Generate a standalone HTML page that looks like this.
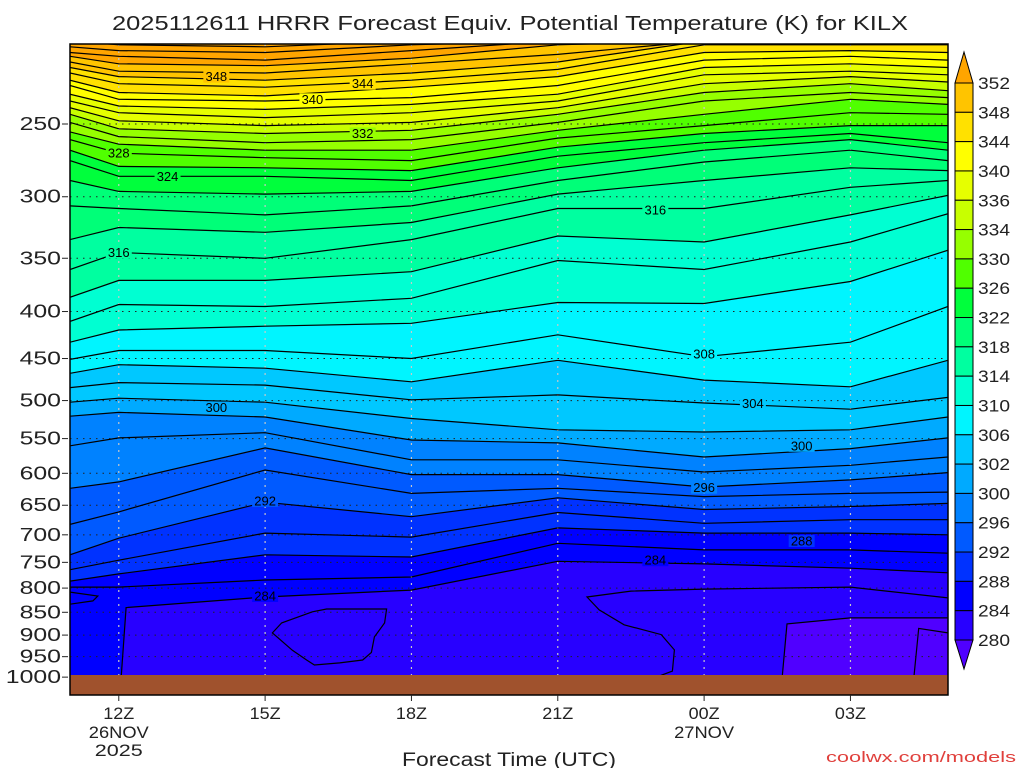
<!DOCTYPE html>
<html><head><meta charset="utf-8">
<style>
html,body{margin:0;padding:0;background:#fff;}
svg{display:block;font-family:"Liberation Sans",sans-serif;}
</style></head>
<body>
<svg id="chart" width="1024" height="768" viewBox="0 0 1024 768" xmlns="http://www.w3.org/2000/svg">
<defs><clipPath id="plotClip"><rect x="70" y="44" width="878" height="631"/></clipPath></defs>
<rect x="0" y="0" width="1024" height="768" fill="#fff"/>
<text x="112" y="30" font-size="20" textLength="796" lengthAdjust="spacingAndGlyphs" fill="#222">2025112611 HRRR Forecast Equiv. Potential Temperature (K) for KILX</text>
<g id="fills" clip-path="url(#plotClip)"></g>
<g id="grid"></g>
<g id="lines" clip-path="url(#plotClip)"></g>
<g id="labels"></g>
<rect x="70" y="675" width="878" height="20" fill="#a0522d"/>
<rect x="70" y="44" width="878" height="651" fill="none" stroke="#000" stroke-width="1.5"/>
<g id="yaxis"></g>
<g id="xaxis"></g>
<g id="cbar"></g>
<text x="402" y="766" font-size="19" textLength="214" lengthAdjust="spacingAndGlyphs" fill="#222">Forecast Time (UTC)</text>
<text x="826" y="762" font-size="15" textLength="190" lengthAdjust="spacingAndGlyphs" fill="#e0403c">coolwx.com/models</text>
</svg>
<script>
// forecast hours (UTC hours since 00Z 26 Nov)
const hours = [11, 12, 15, 18, 21, 24, 27, 29];
// per-level hour overrides for near-vertical contour edges
const h278 = [11, 28.3, 28.4, 29];
const h280 = [11, 25.6, 25.7, 27, 29];
const h284 = [11, 12.05, 12.15, 15, 18, 21, 24, 27, 29];
// pressure (hPa) where each theta-e contour level lies
const p278 = [1000,1000,885,895];
const p280 = [1000,1000,875,862,862];
const p284 = [1000,1000,840,818,804,748,753,761,770];
const p286 = [798,798,784,778,715,727,727,733];
const p288 = [786,772,736,740,688,697,697,700];
const p290 = [764,746,697,704,662,680,674,674];
const p292 = [736,706,645,669,638,657,652,647];
const p294 = [682,661,595,631,623,636,631,629];
const p296 = [623,613,563,602,602,621,610,599];
const p298 = [560,549,542,580,580,598,588,576];
const p300 = [520,515,521,552,556,576,564,549];
const p302 = [502,497,502,523,538,541,538,521];
const p304 = [484,478,481,499,493,503,511,496];
const p306 = [467,457,461,477,452,475,483,452];
const p308 = [451,441,441,450,424,448,432,395];
const p310 = [432,419,415,412,391,392,371,343];
const p312 = [410,393,395,387,352,360,336,313];
const p314 = [386,370,370,362,331,336,314,299];
const p316 = [360,345,350,334,309,309,293,288];
const p318 = [334,324,328,320,298,288,279,281];
const p320 = [307,309,314,307,288,275,267,274];
const p322 = [288,296,298,296,279,267,260,267];
const p324 = [274,285,285,288,271,262,256,262];
const p326 = [267,278,279,281,265,256,251,251];
const p328 = [260,269,272,274,259,251,243,244];
const p330 = [255,263,267,267,254,244,235,238];
const p332 = [249,258,262,260,249,236,231,234];
const p334 = [244,253,256,254,244,231,226,230];
const p336 = [240,248,251,249,240,226,222,225];
const p338 = [236,243,246,243,236,221,219,221];
const p340 = [232,239,241,238,232,217,215,217];
const p342 = [227,235,236,234,227,213,211,213];
const p344 = [224,231,233,228,222,209,208,209];
const p346 = [220,226,228,224,218,205,205,205];
const p348 = [217,222,224,220,214,203,203,203];
const p350 = [214,219,220,215,210,203,203,203];
const p352 = [211,215,216,212,205,203,203,203];
const p354 = [209,211,213,208,203,203,203,203];
const p356 = [206,208,209,205,203,203,203,203];
const p358 = [203,205,206,203,203,203,203,203];
const levels = [278,280,284,286,288,290,292,294,296,298,300,302,304,306,308,310,312,314,316,318,320,322,324,326,328,330,332,334,336,338,340,342,344,346,348,350,352,354,356,358];
const levelSeries = [p278,p280,p284,p286,p288,p290,p292,p294,p296,p298,p300,p302,p304,p306,p308,p310,p312,p314,p316,p318,p320,p322,p324,p326,p328,p330,p332,p334,p336,p338,p340,p342,p344,p346,p348,p350,p352,p354,p356,p358];
const levelHours = [h278,h280,h284];
// 282 K contours: [hour, pressure]
const open282 = [[23.02,1000],[23.35,985],[23.39,934],[23.12,899],[22.36,877],[21.85,845],[21.6,818],[22.5,806],[24,802],[27,798],[29,820]];
const closedA = [[15.15,895],[15.34,873],[15.97,849],[16.26,843],[17.49,843],[17.45,873],[17.24,904],[17.18,940],[17.0,958],[16.53,965],[16.01,970],[15.85,958],[15.56,935]];
const closedB = [[11,808],[11.57,816],[11.47,826],[11,833]];
// contour labels
const labelValues = [348,344,340,332,328,324,316,316,308,304,300,300,296,292,288,284,284];
const labelHours  = [14.0,17.0,15.97,17.0,12.0,13.0,12.0,23.0,24.0,25.0,14.0,26.0,24.0,15.0,26.0,23.0,15.0];
const labelPress  = [222,226,235,256,269,285,345,310,445,504,509,560,622,643,711,746,816];
// colorbar
const cbarTicks = [352,348,344,340,336,334,330,326,322,318,314,310,306,302,300,296,292,288,284,280];
const cbarColors = ["#ffc400","#ffe100","#ffff00","#e6ff00","#c8ff00","#96ff00","#50ff00","#00ff3c","#00ff78","#00ffa0","#00ffd2","#00f5ff","#00c8ff","#00aaff","#0082ff","#005aff","#0032ff","#0000ff","#2800ff"];
const colorAbove = "#ffa500", colorBelow = "#5000ff";
// axes
const pressureTicks = [250,300,350,400,450,500,550,600,650,700,750,800,850,900,950,1000];
const timeTicks = [12,15,18,21,24,27];
const timeLabels = ["12Z","15Z","18Z","21Z","00Z","03Z"];
const dateLabels = [["26NOV","2025"],[],[],[],["27NOV"],[]];

const NS = "http://www.w3.org/2000/svg";
const X0 = 70, X1 = 948, H0 = 11, H1 = 29;
function xOf(h){ return X0 + (h - H0) * (X1 - X0) / (H1 - H0); }
function yOf(p){ return 124 + 399 * Math.log(p / 250); }
function colorFor(v){
  if (v > cbarTicks[0]) return colorAbove;
  for (let i = 0; i < cbarTicks.length - 1; i++) {
    if (v <= cbarTicks[i] && v > cbarTicks[i+1]) return cbarColors[i];
  }
  return colorBelow;
}
function mk(tag, attrs, parent){
  const e = document.createElementNS(NS, tag);
  for (const k in attrs) e.setAttribute(k, attrs[k]);
  parent.appendChild(e);
  return e;
}
function hoursFor(i){ return levelHours[i] || hours; }
const fills = document.getElementById("fills");
const lines = document.getElementById("lines");
const grid = document.getElementById("grid");
const labs = document.getElementById("labels");

const base = mk("rect", {x:70, y:44, width:878, height:640, fill: colorFor(levels[0]-1)}, fills);



levels.forEach((lv, i) => {
  const s = levelSeries[i], hs = hoursFor(i);
  const pts = hs.map((h, j) => xOf(h).toFixed(1) + "," + yOf(s[j]).toFixed(1));
  const poly = mk("polygon", {points: pts.join(" ") + " 948,30 70,30", fill: colorFor(lv + 1)}, fills);
  
  
});
levels.forEach((lv, i) => {
  const s = levelSeries[i], hs = hoursFor(i);
  const pts = hs.map((h, j) => xOf(h).toFixed(1) + "," + yOf(s[j]).toFixed(1));
  const pl = mk("polyline", {points: pts.join(" "), fill: "none", stroke: "#000", "stroke-width": 1.2}, lines);
  
  
});
const o282 = mk("polyline", {points: open282.map(d => xOf(d[0]).toFixed(1) + "," + yOf(d[1]).toFixed(1)).join(" "), fill:"none", stroke:"#000", "stroke-width":1.2}, lines);


[closedA, closedB].forEach((c) => {
  const pts = c.map(d => xOf(d[0]).toFixed(1) + "," + yOf(d[1]).toFixed(1)).join(" ");
  const pg = mk("polygon", {points: pts, fill: "none", stroke: "#000", "stroke-width": 1.2}, lines);
  
  
});

pressureTicks.forEach(p => {
  const y = yOf(p);
  const gl = mk("line", {x1:70, x2:948, y1:y, y2:y, stroke:"#222", "stroke-width":1, "stroke-dasharray":"1.5 5"}, grid);
  
  
});
timeTicks.forEach(h => {
  const x = xOf(h);
  const gl = mk("line", {x1:x, x2:x, y1:44, y2:675, stroke:"#c8c8c8", "stroke-width":1.2, "stroke-dasharray":"2 5"}, grid);
  
  
});

labelValues.forEach((v, i) => {
  const x = xOf(labelHours[i]), y = yOf(labelPress[i]);
  const r = mk("rect", {x:x-13, y:y-6, width:26, height:12, fill: colorFor(v + 1)}, labs);
  
  
  const t = mk("text", {x:x, y:y+4.5, "font-size":13, "text-anchor":"middle", fill:"#000"}, labs);
  t.textContent = v;
  
  
});

const yaxis = document.getElementById("yaxis");
pressureTicks.forEach(p => {
  const y = yOf(p);
  const tk = mk("line", {x1:62, x2:68, y1:y, y2:y, stroke:"#222", "stroke-width":1}, yaxis);
  
  
  const s = String(p);
  const t = mk("text", {x:61, y:y+6, "font-size":18, "text-anchor":"end", fill:"#222", textLength: s.length*13.8, lengthAdjust:"spacingAndGlyphs"}, yaxis);
  t.textContent = s;
  
  
});

const xaxis = document.getElementById("xaxis");
timeTicks.forEach((h, i) => {
  const x = xOf(h);
  const tk = mk("line", {x1:x, x2:x, y1:695, y2:701, stroke:"#222", "stroke-width":1}, xaxis);
  
  
  const t = mk("text", {x:x, y:719, "font-size":17, "text-anchor":"middle", fill:"#222", textLength: 31, lengthAdjust:"spacingAndGlyphs"}, xaxis);
  t.textContent = timeLabels[i];
  
  
  dateLabels[i].forEach((d, k) => {
    const dt = mk("text", {x:x, y:738 + k*18, "font-size":17, "text-anchor":"middle", fill:"#222", textLength: d.length*12, lengthAdjust:"spacingAndGlyphs"}, xaxis);
    dt.textContent = d;
    
    
  });
});

const cbar = document.getElementById("cbar");
const CB_X = 955, CB_W = 18, CB_Y0 = 83, CB_STEP = (640 - 83) / (cbarTicks.length - 1);
cbarColors.forEach((c, i) => {
  const r = mk("rect", {x:CB_X, y:CB_Y0 + i*CB_STEP, width:CB_W, height:CB_STEP, fill:c, stroke:"#000", "stroke-width":1}, cbar);
  
  
});
const triTop = mk("polygon", {points: `${CB_X},${CB_Y0} ${CB_X+CB_W},${CB_Y0} ${CB_X+CB_W/2},${CB_Y0-31}`, fill: colorAbove, stroke:"#000", "stroke-width":1}, cbar);


const yb = CB_Y0 + (cbarTicks.length-1)*CB_STEP;
const triBot = mk("polygon", {points: `${CB_X},${yb} ${CB_X+CB_W},${yb} ${CB_X+CB_W/2},${yb+29}`, fill: colorBelow, stroke:"#000", "stroke-width":1}, cbar);


cbarTicks.forEach((v, i) => {
  const t = mk("text", {x:978, y:CB_Y0 + i*CB_STEP + 6, "font-size":17, fill:"#222", textLength:32, lengthAdjust:"spacingAndGlyphs"}, cbar);
  t.textContent = v;
  
  
});
</script>
</body></html>
